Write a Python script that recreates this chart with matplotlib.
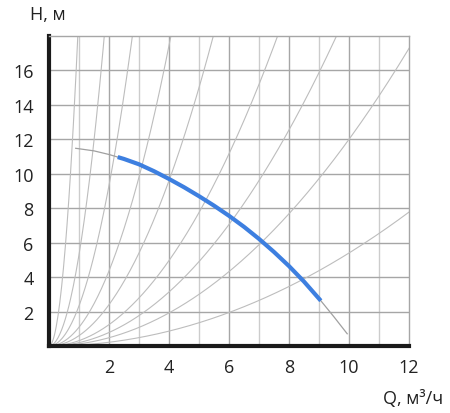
import numpy as np
import matplotlib
matplotlib.use('Agg')
import matplotlib.pyplot as plt

plt.rcParams['font.family'] = ['Open Sans', 'DejaVu Sans']

# pump curve (Q, m3/h ; H, m)
pump_q = [0.89, 1.5, 2.0, 2.29, 2.5, 3.0, 3.5, 4.0, 4.5, 5.0, 5.5, 6.0,
          6.5, 7.0, 7.5, 8.0, 8.5, 9.06, 9.5, 9.94]
pump_h = [11.48, 11.33, 11.12, 10.97, 10.86, 10.55, 10.15, 9.70, 9.22, 8.70,
          8.15, 7.56, 6.92, 6.22, 5.46, 4.64, 3.74, 2.63, 1.69, 0.71]
# working part (blue) goes from Q=2.29 to Q=9.06
work_start = 3
work_end = 17

# system curves H = k * Q^2
system_k = [19.5, 5.3, 2.33, 1.09, 0.6, 0.31, 0.196, 0.12, 0.054]

x_ticks = [2, 4, 6, 8, 10, 12]
y_ticks = [2, 4, 6, 8, 10, 12, 14, 16]

fig = plt.figure(figsize=(4.5, 4.14), dpi=100)
ax = fig.add_axes([49 / 450, 67 / 414, 360 / 450, 310 / 414])

ax.set_xlim(0, 12)
ax.set_ylim(0, 18)

# grid
for x in range(1, 12):
    col = '#a6a6a6' if x % 2 == 0 else '#cccccc'
    ax.axvline(x, color=col, lw=1.0, zorder=1)
for y in range(2, 18, 2):
    ax.axhline(y, color='#a6a6a6', lw=1.0, zorder=1)

# system curves
q = np.linspace(0, 12, 400)
for k in system_k:
    ax.plot(q, k * q ** 2, color='#bdbdbd', lw=0.8, zorder=2)

# pump curve
ax.plot(pump_q, pump_h, color='#a0a0a0', lw=0.9, zorder=3)
ax.plot(pump_q[work_start:work_end + 1], pump_h[work_start:work_end + 1],
        color='#3d7fe0', lw=3.0, solid_capstyle='butt', solid_joinstyle='round',
        zorder=4)

ax.set_xticks(x_ticks)
ax.set_yticks(y_ticks)
ax.tick_params(length=0, labelsize=13, colors='#222222')
ax.tick_params(axis='y', pad=11)
ax.tick_params(axis='x', pad=9)

for s in ['left', 'bottom']:
    ax.spines[s].set_linewidth(3.0)
    ax.spines[s].set_color('#1a1a1a')
for s in ['top', 'right']:
    ax.spines[s].set_linewidth(1.0)
    ax.spines[s].set_color('#a6a6a6')

fig.text(30 / 450, 1 - 15 / 414, 'H, м', fontsize=13, color='#222222',
         ha='left', va='center')
fig.text(443 / 450, 1 - 399 / 414, 'Q, м³/ч', fontsize=13, color='#222222',
         ha='right', va='center')

fig.savefig('out.png', dpi=100)
